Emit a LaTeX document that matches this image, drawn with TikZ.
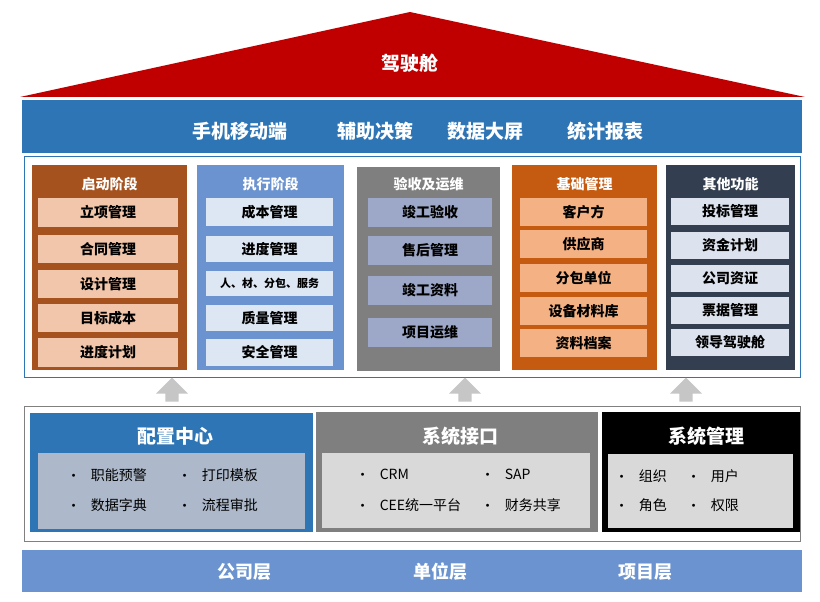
\documentclass[tikz,border=0pt]{standalone}
\usepackage{fontspec}
\setmainfont{Noto Sans CJK SC}
\usepackage{tikz}
\usetikzlibrary{calc}
\usetikzlibrary{shapes.arrows}
\definecolor{roofred}{HTML}{C00000}
\definecolor{barblue}{HTML}{2E75B6}
\definecolor{lightblue}{HTML}{6A93CF}
\definecolor{brownc}{HTML}{A5521F}
\definecolor{greyc}{HTML}{7F7F7F}
\definecolor{orangec}{HTML}{C55A11}
\definecolor{navyc}{HTML}{333F50}
\definecolor{peach}{HTML}{F2C6AA}
\definecolor{peachb}{HTML}{F4B183}
\definecolor{paleblue}{HTML}{DDE6F3}
\definecolor{lavender}{HTML}{9DA8C8}
\definecolor{paleslate}{HTML}{DCE3EE}
\definecolor{slate}{HTML}{ADB9CA}
\definecolor{silver}{HTML}{D9D9D9}

\begin{document}
\begin{tikzpicture}[x=1pt,y=-1pt,
        title/.style={font=\bfseries\fontsize{14}{14}\selectfont,text=white},
        item/.style={font=\bfseries\fontsize{14}{14}\selectfont},
        big/.style={font=\bfseries\fontsize{19}{19}\selectfont,text=white},
        entry/.style={font=\fontsize{14}{14}\selectfont,anchor=west,inner sep=0pt}]
        \useasboundingbox (0,0) rectangle (820,602);
        \fill[white] (0,0) rectangle (820,602);

        % Roof
        \fill[roofred] (20,97) coordinate (RL) -- (410,12) coordinate (RT) -- (805,97) coordinate (RR) -- cycle;
        \node[big] (cockpit) at (410,63) {驾驶舱};

        % Top bar
        \fill[barblue] (22,100) rectangle (802,153);
        \node[big] (mobile) at (240,131) {手机移动端};
        \node[big] (assist) at (375,131) {辅助决策};
        \node[big] (screen) at (485,131) {数据大屏};
        \node[big] (report) at (605,131) {统计报表};

        % Stage frame
        \draw[barblue,fill=white] (24,156) rectangle (800,377);

        % Columns
        \fill[brownc] (32,165) rectangle (187,370);
        \fill[lightblue] (197,165) rectangle (344,370);
        \fill[greyc] (357,167) rectangle (500,371);
        \fill[orangec] (512,165) rectangle (657,370);
        \fill[navyc] (666,165) rectangle (795,370);
        \node[title] (start) at (109.5,184) {启动阶段};
        \node[title] (exec) at (270.5,184) {执行阶段};
        \node[title] (accept) at (428.5,184) {验收及运维};
        \node[title] (base) at (584.5,184) {基础管理};
        \node[title] (other) at (730.5,184) {其他功能};

        % Items of each column
        \foreach \t/\y/\h [count=\i] in {立项管理/198/29,合同管理/235/28,设计管理/270/28,目标成本/304/28,进度计划/338/29}
            \node[item,fill=peach,minimum width=140pt,minimum height=\h pt,inner sep=0pt] (s\i) at (108,\y+\h/2) {\t};
        \foreach \t/\y/\h [count=\i] in {成本管理/198/28,进度管理/236/26,{\fontsize{11}{11}\selectfont 人、材、分包、服务}/271/25,质量管理/305/26,安全管理/339/27}
            \node[item,fill=paleblue,minimum width=127pt,minimum height=\h pt,inner sep=0pt] (e\i) at (269.5,\y+\h/2) {\t};
        \foreach \t/\y [count=\i] in {竣工验收/198,售后管理/236,竣工资料/276,项目运维/318}
            \node[item,fill=lavender,minimum width=124pt,minimum height=29pt,inner sep=0pt] (a\i) at (430,\y+14.5) {\t};
        \foreach \t/\y [count=\i] in {客户方/198,供应商/230,分包单位/264,设备材料库/297,资料档案/329}
            \node[item,fill=peachb,minimum width=127pt,minimum height=28pt,inner sep=0pt] (b\i) at (583.5,\y+14) {\t};
        \foreach \t/\y [count=\i] in {投标管理/198,资金计划/232,公司资证/265,票据管理/297,领导驾驶舱/329}
            \node[item,fill=paleslate,minimum width=118pt,minimum height=27pt,inner sep=0pt] (o\i) at (730,\y+13.5) {\t};

        % Up arrows
        \foreach \x/\n in {172/up1,465/up2,686/up3}
            \node[single arrow,fill=gray!45,rotate=90,minimum height=24pt,minimum width=32pt,
                  single arrow head extend=6pt,inner sep=4pt] (\n) at (\x,393) {};

        % Support frame
        \draw[gray,fill=white] (24,406) rectangle (800,541);
        \fill[barblue] (30,413) rectangle (313,532);
        \fill[slate] (38,453) rectangle (305,529);
        \fill[greyc] (316,412) rectangle (598,532);
        \fill[silver] (322,453) rectangle (590,528);
        \fill[black] (602,412) rectangle (800,532);
        \fill[silver] (608,454) rectangle (793,528);
        \node[big] (config) at (175,436) {配置中心};
        \node[big] (iface) at (460,436) {系统接口};
        \node[big] (sysman) at (706,436) {系统管理};

        % Bullet lists (x = bullet centre)
        \foreach \x/\y/\t [count=\i] in {74/475/职能预警,185/475/打印模板,74/505/数据字典,185/505/流程审批,
                363/474/CRM,488/474/SAP,363/505/CEE统一平台,488/505/财务共享,
                622/476/组织,694/476/用户,622/505/角色,694/505/权限}
            \node[entry] (li\i) at (\x-2.5,\y) {\raisebox{3pt}{\scriptsize$\bullet$}\hspace{15pt}\t};

        % Bottom bar
        \fill[lightblue] (22,550) rectangle (802,592);
        \node[big,font=\bfseries\fontsize{18}{18}\selectfont] (corp) at (244,572) {公司层};
        \node[big,font=\bfseries\fontsize{18}{18}\selectfont] (unit) at (440,572) {单位层};
        \node[big,font=\bfseries\fontsize{18}{18}\selectfont] (proj) at (645,572) {项目层};
    \end{tikzpicture}
\end{document}
